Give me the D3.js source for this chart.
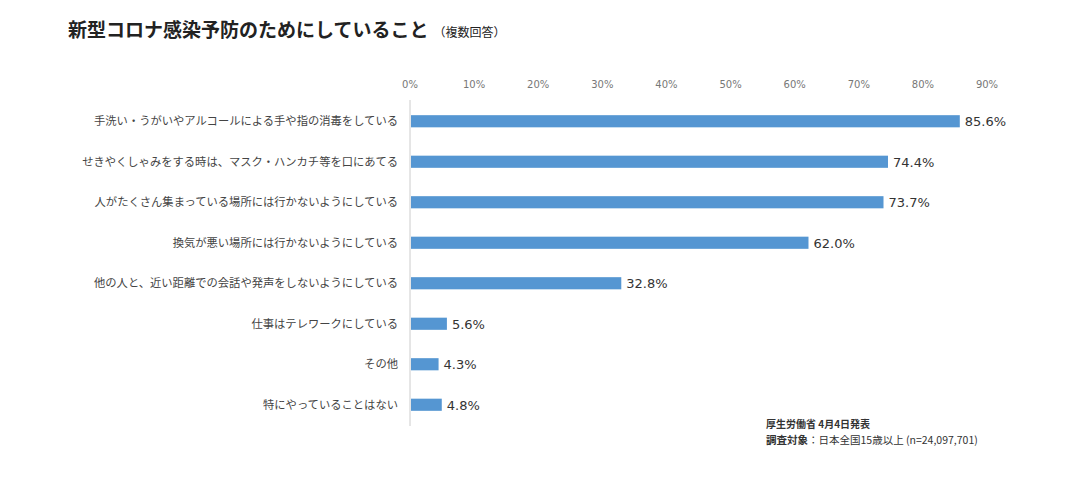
<!DOCTYPE html>
<html><head><meta charset="utf-8">
<script src="https://cdn.jsdelivr.net/npm/d3@7"></script>
<style>body{margin:0;background:#fff;font-family:"Noto Sans CJK JP",sans-serif}</style>
</head><body><svg id="c" width="1080" height="489"></svg>
<script>
const categories = ["手洗い・うがいやアルコールによる手や指の消毒をしている","せきやくしゃみをする時は、マスク・ハンカチ等を口にあてる","人がたくさん集まっている場所には行かないようにしている","換気が悪い場所には行かないようにしている","他の人と、近い距離での会話や発声をしないようにしている","仕事はテレワークにしている","その他","特にやっていることはない"];
const values = [85.6,74.4,73.7,62.0,32.8,5.6,4.3,4.8];
const ticks = [0,10,20,30,40,50,60,70,80,90];

const svg = d3.select("#c");
const x = d3.scaleLinear().domain([0,90]).range([410,987]);
const y = d3.scaleBand().domain(categories).range([101,425]).paddingInner(0.7).paddingOuter(0.35);

svg.append("text").attr("x",68).attr("y",37).attr("font-size",19).attr("font-weight","bold").attr("fill","#222")
  .text("新型コロナ感染予防のためにしていること").append("tspan").attr("font-size",12).attr("font-weight","normal").attr("dx",5).text("（複数回答）");

svg.selectAll(".tk").data(ticks).join("text").attr("x",d=>x(d)).attr("y",88).attr("text-anchor","middle")
  .attr("font-size",10).attr("fill","#777").attr("font-family","Verdana,DejaVu Sans,sans-serif").text(d=>d+"%");

svg.append("line").attr("x1",410).attr("x2",410).attr("y1",100).attr("y2",426).attr("stroke","#ccc");

svg.selectAll(".bar").data(values).join("rect").attr("x",x(0)+1).attr("y",(d,i)=>y(categories[i]))
  .attr("width",d=>x(d)-x(0)).attr("height",y.bandwidth()).attr("fill","#5596d2");

svg.selectAll(".lab").data(categories).join("text").attr("x",398).attr("y",d=>y(d)+y.bandwidth()/2+4)
  .attr("text-anchor","end").attr("font-size",11.3).attr("fill","#444").text(d=>d);

svg.selectAll(".val").data(values).join("text").attr("x",d=>x(d)+6).attr("y",(d,i)=>y(categories[i])+y.bandwidth()/2+5)
  .attr("font-size",13).attr("fill","#333").attr("font-family","Verdana,DejaVu Sans,sans-serif").text(d=>d.toFixed(1)+"%");

svg.append("text").attr("x",766).attr("y",428).attr("font-size",10).attr("font-weight","bold").attr("fill","#333").text("厚生労働省 4月4日発表");
const s = svg.append("text").attr("x",766).attr("y",444).attr("font-size",10.5).attr("fill","#333");
s.append("tspan").attr("font-weight","bold").text("調査対象");
s.append("tspan").text("：日本全国15歳以上 (n=24,097,701)");
</script></body></html>
